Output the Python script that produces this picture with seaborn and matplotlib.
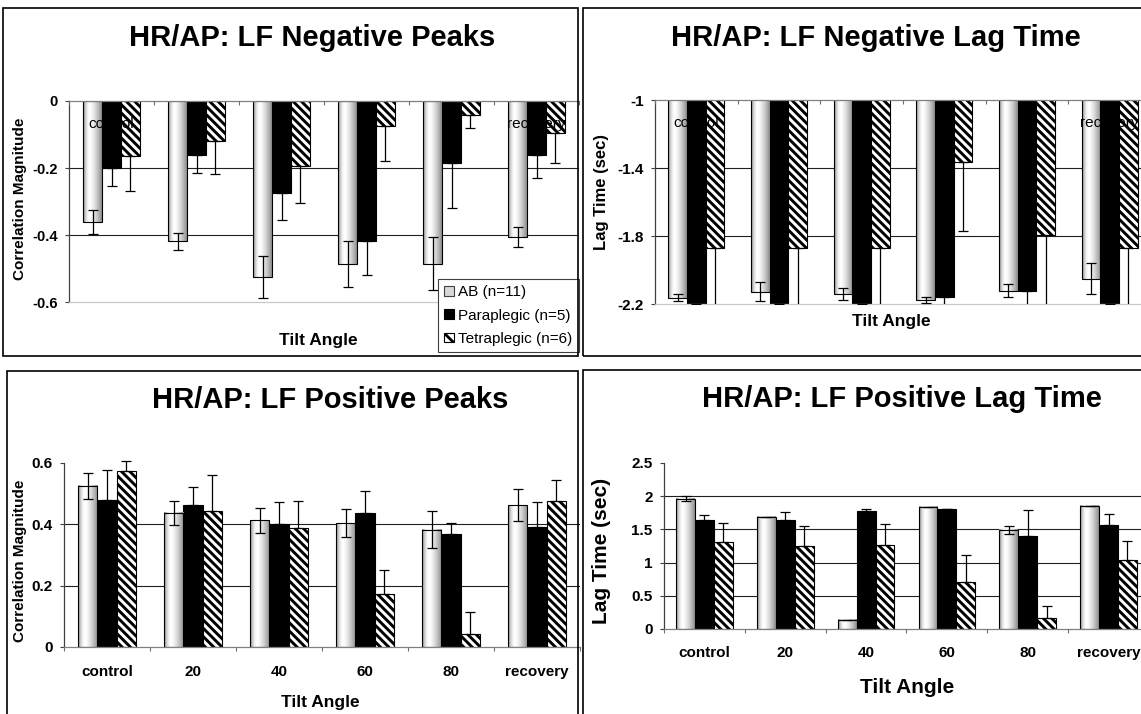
import numpy as np
import pandas as pd
import matplotlib
matplotlib.use("Agg")
import matplotlib.pyplot as plt
from matplotlib.patches import Rectangle, Patch
import seaborn as sns

# ---------------- data ----------------
categories = ["control", "20", "40", "60", "80", "recovery"]
groups = ["AB (n=11)", "Paraplegic (n=5)", "Tetraplegic (n=6)"]

# HR/AP: LF Negative Peaks
neg_peak_ab = [-0.361, -0.419, -0.525, -0.486, -0.486, -0.407]
neg_peak_ab_err = [0.037, 0.026, 0.063, 0.068, 0.079, 0.030]
neg_peak_para = [-0.201, -0.162, -0.275, -0.419, -0.186, -0.162]
neg_peak_para_err = [0.053, 0.053, 0.079, 0.099, 0.132, 0.067]
neg_peak_tetra = [-0.164, -0.120, -0.193, -0.076, -0.041, -0.097]
neg_peak_tetra_err = [0.104, 0.098, 0.110, 0.103, 0.041, 0.089]
neg_peak_yticks = [0, -0.2, -0.4, -0.6]
neg_peak_yticklabels = ["0", "-0.2", "-0.4", "-0.6"]

# HR/AP: LF Negative Lag Time
neg_lag_ab = [-2.163, -2.128, -2.141, -2.176, -2.122, -2.051]
neg_lag_ab_err = [0.022, 0.055, 0.037, 0.017, 0.037, 0.093]
neg_lag_para = [-2.2, -2.2, -2.2, -2.157, -2.122, -2.2]
neg_lag_para_err = [0.1, 0.1, 0.1, 0.1, 0.1, 0.1]
neg_lag_tetra = [-1.868, -1.868, -1.868, -1.367, -1.795, -1.868]
neg_lag_tetra_err = [0.45, 0.45, 0.45, 0.403, 0.45, 0.45]
neg_lag_yticks = [-1, -1.4, -1.8, -2.2]
neg_lag_yticklabels = ["-1", "-1.4", "-1.8", "-2.2"]

# HR/AP: LF Positive Peaks
pos_peak_ab = [0.526, 0.437, 0.413, 0.404, 0.383, 0.463]
pos_peak_ab_err = [0.043, 0.040, 0.040, 0.046, 0.060, 0.051]
pos_peak_para = [0.480, 0.464, 0.401, 0.437, 0.370, 0.392]
pos_peak_para_err = [0.096, 0.058, 0.073, 0.071, 0.035, 0.082]
pos_peak_tetra = [0.574, 0.445, 0.389, 0.174, 0.041, 0.476]
pos_peak_tetra_err = [0.034, 0.117, 0.087, 0.078, 0.074, 0.068]
pos_peak_yticks = [0, 0.2, 0.4, 0.6]
pos_peak_yticklabels = ["0", "0.2", "0.4", "0.6"]

# HR/AP: LF Positive Lag Time
pos_lag_ab = [1.964, 1.693, 0.140, 1.838, 1.493, 1.854]
pos_lag_ab_err = [0.035, 0.0, 0.0, 0.0, 0.055, 0.0]
pos_lag_para = [1.643, 1.643, 1.773, 1.808, 1.408, 1.573]
pos_lag_para_err = [0.070, 0.125, 0.030, 0.0, 0.390, 0.155]
pos_lag_tetra = [1.303, 1.247, 1.262, 0.701, 0.160, 1.032]
pos_lag_tetra_err = [0.300, 0.300, 0.320, 0.416, 0.180, 0.300]
pos_lag_yticks = [0, 0.5, 1, 1.5, 2, 2.5]
pos_lag_yticklabels = ["0", "0.5", "1", "1.5", "2", "2.5"]

# ---------------- style ----------------
sns.set_style("white")
plt.rcParams["font.family"] = ["Liberation Sans", "DejaVu Sans"]
plt.rcParams["hatch.linewidth"] = 2.1
plt.rcParams["hatch.color"] = "black"
for key in ["text.color", "axes.labelcolor", "xtick.color", "ytick.color"]:
    plt.rcParams[key] = "black"

HATCH = chr(92) * 4          # dense "\\" stripes
HATCH_LEG = chr(92) * 3

W, H = 1141, 714
fig = plt.figure(figsize=(W / 100, H / 100), dpi=100)
fig.patch.set_facecolor("white")


def add_axes_px(L, T, R, B):
    return fig.add_axes([L / W, 1 - B / H, (R - L) / W, (B - T) / H])


# horizontal gradient for the "cylinder" AB bars
_t = np.linspace(0, 1, 96)
_grad = np.where(_t < 0.36, 1 - 0.5 * ((0.36 - _t) / 0.36) ** 2,
                 1 - 0.45 * ((_t - 0.36) / 0.64) ** 1.4)[None, :]


def hatch_lw(p, lw=2.1):
    if hasattr(p, "set_hatch_linewidth"):
        p.set_hatch_linewidth(lw)


def panel(ax, ab, para, tetra, errs, ylim, yticks, yticklabels, top_axis,
          width, err_clip, tick_fs, cat_fs, cat_bold, cat_pad):
    df = pd.DataFrame({
        "Tilt Angle": categories * 3,
        "group": np.repeat(groups, len(categories)),
        "value": list(ab) + list(para) + list(tetra),
    })
    sns.barplot(data=df, x="Tilt Angle", y="value", hue="group",
                order=categories, hue_order=groups,
                palette={groups[0]: "white", groups[1]: "black", groups[2]: "white"},
                saturation=1, width=width, errorbar=None, edgecolor="black",
                linewidth=0.8, legend=False, ax=ax)

    # hatched tetraplegic bars
    for p in ax.containers[2]:
        p.set_hatch(HATCH)
        hatch_lw(p)
    # gradient AB bars
    for p in ax.containers[0]:
        x0, y0, w, h = p.get_x(), p.get_y(), p.get_width(), p.get_height()
        ax.imshow(_grad, cmap="gray", vmin=0, vmax=1, aspect="auto",
                  extent=(x0, x0 + w, y0, y0 + h), interpolation="bilinear",
                  zorder=1.01)
        p.set_facecolor("none")
        p.set_zorder(1.02)

    # error bars: AB symmetric, the other groups one-sided (away from the axis)
    for i, (cont, vals, err) in enumerate(zip(ax.containers, [ab, para, tetra], errs)):
        xs = [p.get_x() + p.get_width() / 2 for p in cont]
        v = np.asarray(vals, dtype=float)
        e = np.asarray(err, dtype=float)
        if i == 0:
            yerr = e
        else:
            yerr = [np.where(v < 0, e, 0.0), np.where(v > 0, e, 0.0)]
        eb = ax.errorbar(xs, v, yerr=yerr, fmt="none", ecolor="black",
                         elinewidth=0.9, capsize=3.3, capthick=0.9, zorder=3)
        for art in list(eb.lines[1]) + list(eb.lines[2]):
            art.set_clip_on(err_clip)

    ax.set_xlim(-0.5, len(categories) - 0.5)
    ax.set_ylim(*ylim)
    ax.set_yticks(yticks)
    ax.set_yticklabels(yticklabels, fontsize=tick_fs, fontweight="bold")
    ax.set_xticks(range(len(categories)))
    ax.set_xticklabels(categories, fontsize=cat_fs,
                       fontweight="bold" if cat_bold else "normal")
    ax.set_xticks(np.arange(-0.5, len(categories), 1), minor=True)
    ax.set_xlabel("")
    ax.set_ylabel("")

    ax.tick_params(axis="y", direction="out", length=3.2, width=0.8,
                   color="#404040", pad=5, left=True)
    if top_axis:
        ax.tick_params(axis="x", which="both", bottom=False, top=True,
                       labelbottom=False, labeltop=True, direction="in")
        ax.tick_params(axis="x", which="major", length=0, pad=cat_pad)
        ax.tick_params(axis="x", which="minor", length=3, width=0.8, color="#707070")
        ax.spines["top"].set_color("#808080")
        ax.spines["bottom"].set_color("#c8c8c8")
    else:
        ax.tick_params(axis="x", which="both", bottom=True, top=False,
                       direction="out")
        ax.tick_params(axis="x", which="major", length=0, pad=cat_pad)
        ax.tick_params(axis="x", which="minor", length=3, width=0.8, color="#707070")
        ax.spines["top"].set_visible(False)
        ax.spines["bottom"].set_color("#808080")
    ax.spines["right"].set_visible(False)
    ax.spines["left"].set_color("#404040")
    for s in ax.spines.values():
        s.set_linewidth(0.9)

    ax.set_axisbelow(True)
    ax.yaxis.grid(True, color="#202020", linewidth=0.8)
    ax.xaxis.grid(False)
    for loc, tick in zip(ax.yaxis.get_majorticklocs(), ax.yaxis.get_major_ticks()):
        if np.isclose(loc, ylim[0]) or np.isclose(loc, ylim[1]):
            tick.gridline.set_visible(False)
    ax.xaxis.set_zorder(4)
    ax.set_facecolor("white")


def labels(ax, ylabel, ylab_fs, ylab_xy, xlab_fs, xlab_xy):
    ax.set_ylabel(ylabel, fontsize=ylab_fs, fontweight="bold", va="center")
    ax.yaxis.set_label_coords(*ylab_xy)
    ax.set_xlabel("Tilt Angle", fontsize=xlab_fs, fontweight="bold", va="baseline")
    ax.xaxis.set_label_coords(*xlab_xy)


# ---- top-left ----
ax1 = add_axes_px(69, 101, 579, 302)
panel(ax1, neg_peak_ab, neg_peak_para, neg_peak_tetra,
      [neg_peak_ab_err, neg_peak_para_err, neg_peak_tetra_err],
      (-0.6, 0), neg_peak_yticks, neg_peak_yticklabels, True,
      0.67, True, 10.5, 11, False, -21.4)
labels(ax1, "Correlation Magnitude", 11, (-0.096, 0.512), 12.5, (0.488, -0.214))

# ---- top-right ----
ax2 = add_axes_px(655, 100, 1151, 304)
panel(ax2, neg_lag_ab, neg_lag_para, neg_lag_tetra,
      [neg_lag_ab_err, neg_lag_para_err, neg_lag_tetra_err],
      (-2.2, -1), neg_lag_yticks, neg_lag_yticklabels, True,
      0.68, True, 11, 11, False, -21.5)
labels(ax2, "Lag Time (sec)", 12, (-0.107, 0.549), 12.5, (0.476, -0.108))

# ---- bottom-left ----
ax3 = add_axes_px(64, 463, 580, 647)
panel(ax3, pos_peak_ab, pos_peak_para, pos_peak_tetra,
      [pos_peak_ab_err, pos_peak_para_err, pos_peak_tetra_err],
      (0, 0.6), pos_peak_yticks, pos_peak_yticklabels, False,
      0.67, False, 11, 11, True, 13)
labels(ax3, "Correlation Magnitude", 11, (-0.085, 0.467), 12.5, (0.496, -0.326))

# ---- bottom-right ----
ax4 = add_axes_px(664, 463, 1149, 629)
panel(ax4, pos_lag_ab, pos_lag_para, pos_lag_tetra,
      [pos_lag_ab_err, pos_lag_para_err, pos_lag_tetra_err],
      (0, 2.5), pos_lag_yticks, pos_lag_yticklabels, False,
      0.70, False, 11, 11, True, 12)
labels(ax4, "Lag Time (sec)", 15, (-0.128, 0.47), 15, (0.501, -0.386))

# ---- titles ----
titles = ["HR/AP: LF Negative Peaks", "HR/AP: LF Negative Lag Time",
          "HR/AP: LF Positive Peaks", "HR/AP: LF Positive Lag Time"]
title_pos = [(312, 46.5), (876, 46), (330, 408), (902, 407)]
for t, (x, y) in zip(titles, title_pos):
    fig.text(x / W, 1 - y / H, t, ha="center", va="baseline",
             fontsize=21, fontweight="bold")

# ---- legend (top-left panel) ----
handles = [Patch(facecolor="#d8d8d8", edgecolor="#404040", linewidth=0.8),
           Patch(facecolor="black", edgecolor="black", linewidth=0.8),
           Patch(facecolor="white", edgecolor="black", hatch=HATCH_LEG, linewidth=0.8)]
leg = fig.legend(handles, groups, loc="upper left",
                 bbox_to_anchor=(438 / W, 1 - 279 / H), bbox_transform=fig.transFigure,
                 frameon=True, fancybox=False, edgecolor="#404040", framealpha=1,
                 fontsize=11, handlelength=0.6, handleheight=0.6, handletextpad=0.3,
                 labelspacing=0.6, borderpad=0.42, borderaxespad=0)
leg.get_frame().set_linewidth(0.8)
for h in leg.legend_handles:
    hatch_lw(h, 2.0)

# ---- panel frames ----
frames = [(3, 8, 578, 356), (583, 8, 1150, 356), (7, 371, 578, 725), (583, 370, 1150, 725)]
for x0, y0, x1, y1 in frames:
    fig.add_artist(Rectangle((x0 / W, 1 - y1 / H), (x1 - x0) / W, (y1 - y0) / H,
                             transform=fig.transFigure, fill=False,
                             edgecolor="black", linewidth=1.2, zorder=10))

fig.savefig("out.png", dpi=100, facecolor="white")
